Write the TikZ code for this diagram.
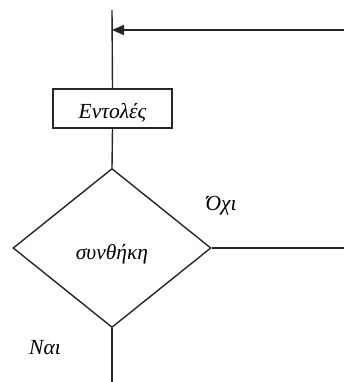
\documentclass[tikz,border=0pt]{standalone}
\usepackage{fontspec}
\setmainfont{Liberation Serif}
\usetikzlibrary{shapes.geometric,arrows.meta}
\begin{document}
\begin{tikzpicture}[x=1pt,y=-1pt,
  line/.style={line width=1.4pt,draw=black!85},
  txt/.style={font=\itshape\fontsize{21.5}{24}\selectfont},
  lbl/.style={txt,anchor=base,inner sep=0pt},
  box/.style={txt,draw=black!85,line width=1.4pt,minimum width=119pt,minimum height=39pt,inner sep=0pt,text height=21pt,text depth=0pt},
  dia/.style={txt,draw=black!85,line width=1.4pt,diamond,minimum width=198pt,minimum height=159pt,inner sep=0pt,text height=22pt,text depth=0pt}]
\useasboundingbox (0,0) rectangle (344,382);
\coordinate (top) at (112,10);
\coordinate (merge) at (112,30);
\coordinate (rin) at (344,30);
\coordinate (rout) at (344,248);
\coordinate (bot) at (112,382);
\node[box] (cmd) at (112.5,108.5) {Εντολές};
\node[dia] (cond) at (112,248) {συνθήκη};
\draw[line] (top) -- (cmd.north);
\draw[line] (cmd.south) -- (cond.north);
\draw[line] (cond.south) -- (bot);
\draw[line] (cond.east) -- (rout);
\draw[line,-{Triangle[length=12pt,width=10pt]}] (rin) -- (merge);
\node[lbl] (no) at (221,210) {Όχι};
\node[lbl] (yes) at (45,354) {Ναι};
\end{tikzpicture}
\end{document}
